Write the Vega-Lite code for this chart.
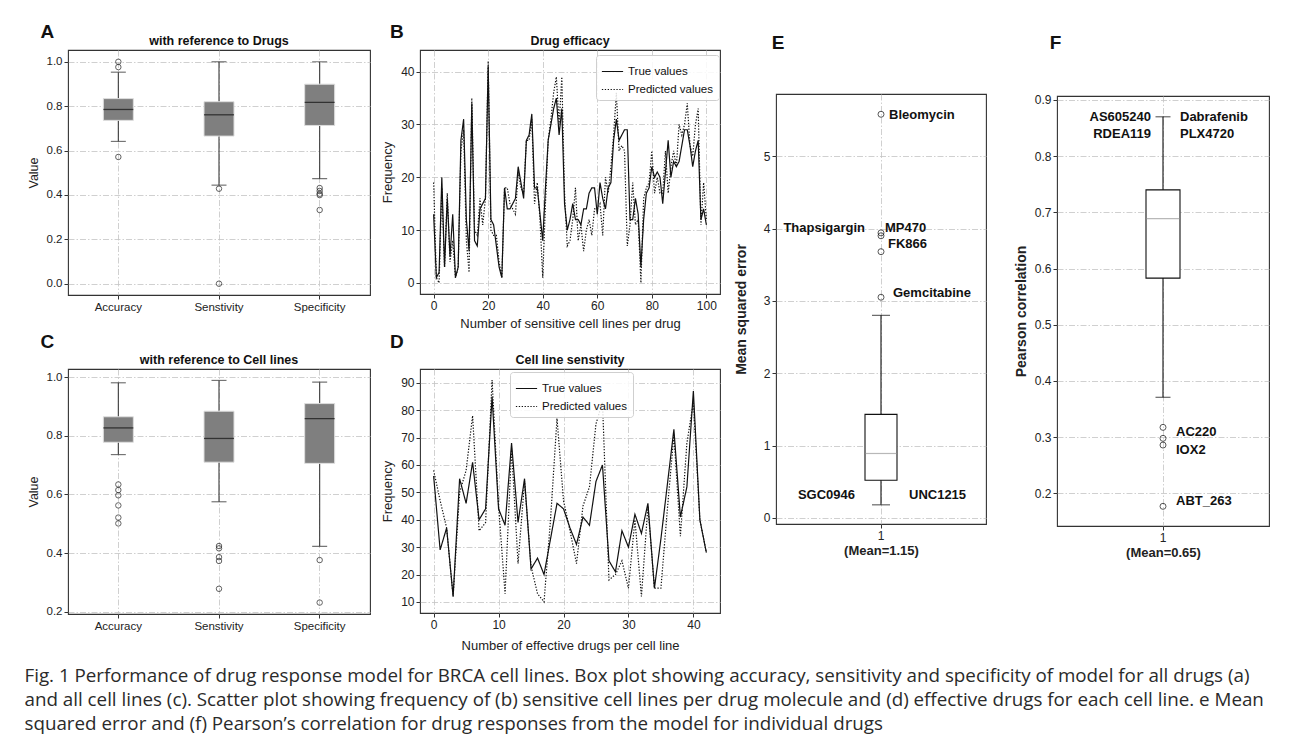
{
  "$schema": "https://vega.github.io/schema/vega-lite/v6.json",
  "padding": {"left": 24, "top": 22, "right": 2, "bottom": 2},
  "background": "white",
  "config": {
    "font": "Liberation Sans",
    "view": {"stroke": "#333", "strokeWidth": 1.1},
    "axis": {"domain": false, "grid": true, "gridColor": "#c4c4c4", "gridDash": [6, 2, 1.5, 2], "gridWidth": 0.8, "tickColor": "#333", "tickSize": 4, "labelColor": "#222", "titleColor": "#222", "titleFontWeight": "normal", "labelFontSize": 11.5, "titleFontSize": 12.5, "labelPadding": 2, "titlePadding": 6}
  },
  "title": {
    "text": [
      "Fig. 1 Performance of drug response model for BRCA cell lines. Box plot showing accuracy, sensitivity and specificity of model for all drugs (a)",
      "and all cell lines (c). Scatter plot showing frequency of (b) sensitive cell lines per drug molecule and (d) effective drugs for each cell line. e Mean",
      "squared error and (f) Pearson’s correlation for drug responses from the model for individual drugs"
    ],
    "orient": "bottom", "anchor": "start", "font": "Open Sans", "fontSize": 18.8, "fontWeight": "normal", "lineHeight": 24.2, "color": "#2a2a2a", "offset": 14, "dx": -2
  },
  "resolve": {"scale": {"x": "independent", "y": "independent", "strokeDash": "independent"}, "legend": {"strokeDash": "independent"}},
  "spacing": 12,
  "hconcat": [
    {
      "resolve": {"scale": {"x": "independent", "y": "independent", "strokeDash": "independent"}, "legend": {"strokeDash": "independent"}},
      "spacing": 1,
      "vconcat": [
        {
          "spacing": 10,
          "resolve": {"scale": {"x": "independent", "y": "independent", "strokeDash": "independent"}, "legend": {"strokeDash": "independent"}},
          "hconcat": [
            {
              "title": {"text": "A", "anchor": "start", "fontSize": 19, "fontWeight": "bold", "dx": 14, "offset": -8, "color": "#111"},
              "vconcat": [
                {
                  "width": 302, "height": 245,
                  "title": {"text": "with reference to Drugs", "fontSize": 12.5, "fontWeight": "bold", "offset": 3, "color": "#111"},
                  "data": {"values": [
                    {"cat": "Accuracy", "lo": 0.641, "q1": 0.736, "med": 0.785, "q3": 0.834, "hi": 0.953},
                    {"cat": "Senstivity", "lo": 0.444, "q1": 0.665, "med": 0.761, "q3": 0.82, "hi": 1.0},
                    {"cat": "Specificity", "lo": 0.473, "q1": 0.713, "med": 0.817, "q3": 0.899, "hi": 1.0}
                  ]},
                  "encoding": {"x": {"field": "cat", "type": "nominal", "sort": ["Accuracy", "Senstivity", "Specificity"], "scale": {"paddingInner": 0, "paddingOuter": 0}, "axis": {"title": null, "labelAngle": 0, "bandPosition": 0.5}}},
                  "layer": [
                    {"mark": {"type": "rule", "color": "#3a3a3a", "strokeWidth": 1.1}, "encoding": {"y": {"field": "lo", "type": "quantitative", "scale": {"domain": [-0.051, 1.053], "nice": false, "zero": false}, "axis": {"title": "Value", "values": [0, 0.2, 0.4, 0.6, 0.8, 1.0], "format": ".1f"}}, "y2": {"field": "hi"}}},
                    {"mark": {"type": "bar", "size": 30, "fill": "#7f7f7f", "stroke": "#dedede", "strokeWidth": 1}, "encoding": {"y": {"field": "q1", "type": "quantitative", "title": "Value"}, "y2": {"field": "q3"}}},
                    {"mark": {"type": "tick", "size": 30, "thickness": 1.3, "color": "#111"}, "encoding": {"y": {"field": "med", "type": "quantitative", "title": "Value"}}},
                    {"mark": {"type": "tick", "size": 15, "thickness": 1.2, "color": "#3a3a3a"}, "encoding": {"y": {"field": "lo", "type": "quantitative", "title": "Value"}}},
                    {"mark": {"type": "tick", "size": 15, "thickness": 1.2, "color": "#3a3a3a"}, "encoding": {"y": {"field": "hi", "type": "quantitative", "title": "Value"}}},
                    {
                      "data": {"values": [
                        {"cat": "Accuracy", "v": 1.0}, {"cat": "Accuracy", "v": 0.976}, {"cat": "Accuracy", "v": 0.571},
                        {"cat": "Senstivity", "v": 0.428}, {"cat": "Senstivity", "v": 0.0},
                        {"cat": "Specificity", "v": 0.431}, {"cat": "Specificity", "v": 0.418}, {"cat": "Specificity", "v": 0.405}, {"cat": "Specificity", "v": 0.399}, {"cat": "Specificity", "v": 0.332}
                      ]},
                      "mark": {"type": "point", "shape": "circle", "filled": false, "stroke": "#222", "strokeWidth": 1, "size": 30},
                      "encoding": {"y": {"field": "v", "type": "quantitative", "title": "Value"}}
                    }
                  ]
                }
              ]
            },
            {
              "title": {"text": "B", "anchor": "start", "fontSize": 19, "fontWeight": "bold", "dx": 9, "offset": -8, "color": "#111"},
              "vconcat": [
                {
                  "width": 300, "height": 244,
                  "title": {"text": "Drug efficacy", "fontSize": 12.5, "fontWeight": "bold", "offset": 3, "color": "#111"},
                  "data": {"values": [
                    {"n":0,"True values":13,"Predicted values":19},{"n":1,"True values":1,"Predicted values":1},{"n":2,"True values":2,"Predicted values":0},{"n":3,"True values":20,"Predicted values":18},{"n":4,"True values":3,"Predicted values":3},
                    {"n":5,"True values":16,"Predicted values":17},{"n":6,"True values":5,"Predicted values":4},{"n":7,"True values":13,"Predicted values":8},{"n":8,"True values":1,"Predicted values":1},{"n":9,"True values":3,"Predicted values":3},
                    {"n":10,"True values":27,"Predicted values":25},{"n":11,"True values":31,"Predicted values":29},{"n":12,"True values":12,"Predicted values":8},{"n":13,"True values":6,"Predicted values":2},{"n":14,"True values":34,"Predicted values":35},
                    {"n":15,"True values":8,"Predicted values":10},{"n":16,"True values":7,"Predicted values":9},{"n":17,"True values":14,"Predicted values":16},{"n":18,"True values":15,"Predicted values":11},{"n":19,"True values":16,"Predicted values":16},
                    {"n":20,"True values":41,"Predicted values":42},{"n":21,"True values":12,"Predicted values":10},{"n":22,"True values":11,"Predicted values":9},{"n":23,"True values":7,"Predicted values":9},{"n":24,"True values":3,"Predicted values":4},
                    {"n":25,"True values":1,"Predicted values":1},{"n":26,"True values":18,"Predicted values":18},{"n":27,"True values":14,"Predicted values":18},{"n":28,"True values":14,"Predicted values":15},{"n":29,"True values":15,"Predicted values":14},
                    {"n":30,"True values":16,"Predicted values":13},{"n":31,"True values":22,"Predicted values":21},{"n":32,"True values":19,"Predicted values":18},{"n":33,"True values":16,"Predicted values":17},{"n":34,"True values":27,"Predicted values":27},
                    {"n":35,"True values":28,"Predicted values":27},{"n":36,"True values":32,"Predicted values":31},{"n":37,"True values":18,"Predicted values":15},{"n":38,"True values":18,"Predicted values":19},{"n":39,"True values":13,"Predicted values":12},
                    {"n":40,"True values":8,"Predicted values":1},{"n":41,"True values":18,"Predicted values":15},{"n":42,"True values":27,"Predicted values":27},{"n":43,"True values":30,"Predicted values":31},{"n":44,"True values":33,"Predicted values":36},
                    {"n":45,"True values":35,"Predicted values":39},{"n":46,"True values":28,"Predicted values":30},{"n":47,"True values":33,"Predicted values":39},{"n":48,"True values":15,"Predicted values":17},{"n":49,"True values":10,"Predicted values":7},
                    {"n":50,"True values":12,"Predicted values":8},{"n":51,"True values":15,"Predicted values":12},{"n":52,"True values":12,"Predicted values":18},{"n":53,"True values":12,"Predicted values":8},{"n":54,"True values":11,"Predicted values":11},
                    {"n":55,"True values":14,"Predicted values":6},{"n":56,"True values":14,"Predicted values":10},{"n":57,"True values":17,"Predicted values":12},{"n":58,"True values":18,"Predicted values":9},{"n":59,"True values":18,"Predicted values":14},
                    {"n":60,"True values":13,"Predicted values":14},{"n":61,"True values":19,"Predicted values":15},{"n":62,"True values":16,"Predicted values":9},{"n":63,"True values":14,"Predicted values":20},{"n":64,"True values":18,"Predicted values":17},
                    {"n":65,"True values":19,"Predicted values":22},{"n":66,"True values":27,"Predicted values":28},{"n":67,"True values":31,"Predicted values":36},{"n":68,"True values":27,"Predicted values":25},{"n":69,"True values":28,"Predicted values":26},
                    {"n":70,"True values":29,"Predicted values":25},{"n":71,"True values":29,"Predicted values":7},{"n":72,"True values":12,"Predicted values":11},{"n":73,"True values":12,"Predicted values":19},{"n":74,"True values":16,"Predicted values":11},
                    {"n":75,"True values":13,"Predicted values":12},{"n":76,"True values":3,"Predicted values":0},{"n":77,"True values":12,"Predicted values":16},{"n":78,"True values":17,"Predicted values":18},{"n":79,"True values":18,"Predicted values":19},
                    {"n":80,"True values":22,"Predicted values":25},{"n":81,"True values":20,"Predicted values":17},{"n":82,"True values":21,"Predicted values":20},{"n":83,"True values":20,"Predicted values":17},{"n":84,"True values":15,"Predicted values":17},
                    {"n":85,"True values":21,"Predicted values":25},{"n":86,"True values":27,"Predicted values":17},{"n":87,"True values":20,"Predicted values":22},{"n":88,"True values":23,"Predicted values":25},{"n":89,"True values":22,"Predicted values":22},
                    {"n":90,"True values":23,"Predicted values":30},{"n":91,"True values":26,"Predicted values":28},{"n":92,"True values":29,"Predicted values":30},{"n":93,"True values":29,"Predicted values":34},{"n":94,"True values":26,"Predicted values":26},
                    {"n":95,"True values":22,"Predicted values":24},{"n":96,"True values":25,"Predicted values":30},{"n":97,"True values":27,"Predicted values":33},{"n":98,"True values":12,"Predicted values":11},{"n":99,"True values":14,"Predicted values":19},
                    {"n":100,"True values":11,"Predicted values":12}
                  ]},
                  "transform": [{"fold": ["True values", "Predicted values"], "as": ["series", "freq"]}],
                  "mark": {"type": "line", "color": "#111", "strokeWidth": 1.2},
                  "encoding": {
                    "x": {"field": "n", "type": "quantitative", "scale": {"domain": [-5, 105], "nice": false, "zero": false}, "axis": {"values": [0, 20, 40, 60, 80, 100], "title": "Number of sensitive cell lines per drug", "labelFontSize": 12, "titleFontSize": 13}},
                    "y": {"field": "freq", "type": "quantitative", "scale": {"domain": [-2.1, 44.1], "nice": false, "zero": false}, "axis": {"values": [0, 10, 20, 30, 40], "title": "Frequency", "labelFontSize": 12, "titleFontSize": 13}},
                    "strokeDash": {"field": "series", "type": "nominal", "scale": {"domain": ["True values", "Predicted values"], "range": [[1, 0], [1.3, 1.6]]},
                      "legend": {"title": null, "orient": "none", "legendX": 176, "legendY": 5, "fillColor": "rgba(255,255,255,0.85)", "strokeColor": "#cfcfcf", "cornerRadius": 3, "padding": 5, "rowPadding": 1, "labelFontSize": 11.5, "labelColor": "#111", "symbolType": "stroke", "symbolSize": 450, "symbolStrokeColor": "#111", "symbolStrokeWidth": 1.2}}
                  }
                }
              ]
            }
          ]
        },
        {
          "spacing": 10,
          "resolve": {"scale": {"x": "independent", "y": "independent", "strokeDash": "independent"}, "legend": {"strokeDash": "independent"}},
          "hconcat": [
            {
              "title": {"text": "C", "anchor": "start", "fontSize": 19, "fontWeight": "bold", "dx": 14, "offset": 1, "color": "#111"},
              "vconcat": [
                {
                  "width": 302, "height": 245,
                  "title": {"text": "with reference to Cell lines", "fontSize": 12.5, "fontWeight": "bold", "offset": 3, "color": "#111"},
                  "data": {"values": [
                    {"cat": "Accuracy", "lo": 0.736, "q1": 0.778, "med": 0.827, "q3": 0.865, "hi": 0.981},
                    {"cat": "Senstivity", "lo": 0.575, "q1": 0.71, "med": 0.791, "q3": 0.884, "hi": 0.989},
                    {"cat": "Specificity", "lo": 0.423, "q1": 0.706, "med": 0.859, "q3": 0.91, "hi": 0.983}
                  ]},
                  "encoding": {"x": {"field": "cat", "type": "nominal", "sort": ["Accuracy", "Senstivity", "Specificity"], "scale": {"paddingInner": 0, "paddingOuter": 0}, "axis": {"title": null, "labelAngle": 0, "bandPosition": 0.5}}},
                  "layer": [
                    {"mark": {"type": "rule", "color": "#3a3a3a", "strokeWidth": 1.1}, "encoding": {"y": {"field": "lo", "type": "quantitative", "scale": {"domain": [0.192, 1.028], "nice": false, "zero": false}, "axis": {"title": "Value", "values": [0.2, 0.3, 0.4, 0.5, 0.6, 0.7, 0.8, 0.9, 1.0], "format": ".1f"}}, "y2": {"field": "hi"}}},
                    {"mark": {"type": "bar", "size": 30, "fill": "#7f7f7f", "stroke": "#dedede", "strokeWidth": 1}, "encoding": {"y": {"field": "q1", "type": "quantitative", "title": "Value"}, "y2": {"field": "q3"}}},
                    {"mark": {"type": "tick", "size": 30, "thickness": 1.3, "color": "#111"}, "encoding": {"y": {"field": "med", "type": "quantitative", "title": "Value"}}},
                    {"mark": {"type": "tick", "size": 15, "thickness": 1.2, "color": "#3a3a3a"}, "encoding": {"y": {"field": "lo", "type": "quantitative", "title": "Value"}}},
                    {"mark": {"type": "tick", "size": 15, "thickness": 1.2, "color": "#3a3a3a"}, "encoding": {"y": {"field": "hi", "type": "quantitative", "title": "Value"}}},
                    {
                      "data": {"values": [
                        {"cat": "Accuracy", "v": 0.634}, {"cat": "Accuracy", "v": 0.615}, {"cat": "Accuracy", "v": 0.597}, {"cat": "Accuracy", "v": 0.5625}, {"cat": "Accuracy", "v": 0.521}, {"cat": "Accuracy", "v": 0.501},
                        {"cat": "Senstivity", "v": 0.424}, {"cat": "Senstivity", "v": 0.416}, {"cat": "Senstivity", "v": 0.386}, {"cat": "Senstivity", "v": 0.373}, {"cat": "Senstivity", "v": 0.278},
                        {"cat": "Specificity", "v": 0.376}, {"cat": "Specificity", "v": 0.231}
                      ]},
                      "mark": {"type": "point", "shape": "circle", "filled": false, "stroke": "#222", "strokeWidth": 1, "size": 30},
                      "encoding": {"y": {"field": "v", "type": "quantitative", "title": "Value"}}
                    }
                  ]
                }
              ]
            },
            {
              "title": {"text": "D", "anchor": "start", "fontSize": 19, "fontWeight": "bold", "dx": 9, "offset": 1, "color": "#111"},
              "vconcat": [
                {
                  "width": 300, "height": 244,
                  "title": {"text": "Cell line senstivity", "fontSize": 12.5, "fontWeight": "bold", "offset": 3, "color": "#111"},
                  "data": {"values": [
                    {"n":0,"True values":56,"Predicted values":58},{"n":1,"True values":29,"Predicted values":47},{"n":2,"True values":37,"Predicted values":37},{"n":3,"True values":12,"Predicted values":12},{"n":4,"True values":55,"Predicted values":50},
                    {"n":5,"True values":46,"Predicted values":58},{"n":6,"True values":61,"Predicted values":78},{"n":7,"True values":40,"Predicted values":36},{"n":8,"True values":44,"Predicted values":39},{"n":9,"True values":85,"Predicted values":91},
                    {"n":10,"True values":44,"Predicted values":45},{"n":11,"True values":38,"Predicted values":13},{"n":12,"True values":68,"Predicted values":66},{"n":13,"True values":39,"Predicted values":24},{"n":14,"True values":55,"Predicted values":54},
                    {"n":15,"True values":22,"Predicted values":23},{"n":16,"True values":26,"Predicted values":13},{"n":17,"True values":20,"Predicted values":10},{"n":18,"True values":33,"Predicted values":40},{"n":19,"True values":46,"Predicted values":77},
                    {"n":20,"True values":44,"Predicted values":47},{"n":21,"True values":37,"Predicted values":36},{"n":22,"True values":31,"Predicted values":24},{"n":23,"True values":41,"Predicted values":45},{"n":24,"True values":38,"Predicted values":52},
                    {"n":25,"True values":54,"Predicted values":75},{"n":26,"True values":60,"Predicted values":83},{"n":27,"True values":25,"Predicted values":18},{"n":28,"True values":21,"Predicted values":20},{"n":29,"True values":36,"Predicted values":25},
                    {"n":30,"True values":30,"Predicted values":15},{"n":31,"True values":42,"Predicted values":40},{"n":32,"True values":35,"Predicted values":12},{"n":33,"True values":46,"Predicted values":45},{"n":34,"True values":15,"Predicted values":15},
                    {"n":35,"True values":33,"Predicted values":15},{"n":36,"True values":53,"Predicted values":44},{"n":37,"True values":73,"Predicted values":71},{"n":38,"True values":41,"Predicted values":34},{"n":39,"True values":52,"Predicted values":68},
                    {"n":40,"True values":87,"Predicted values":83},{"n":41,"True values":40,"Predicted values":40},{"n":42,"True values":28,"Predicted values":28}
                  ]},
                  "transform": [{"fold": ["True values", "Predicted values"], "as": ["series", "freq"]}],
                  "mark": {"type": "line", "color": "#111", "strokeWidth": 1.2},
                  "encoding": {
                    "x": {"field": "n", "type": "quantitative", "scale": {"domain": [-2.1, 44.1], "nice": false, "zero": false}, "axis": {"values": [0, 10, 20, 30, 40], "title": "Number of effective drugs per cell line", "labelFontSize": 12, "titleFontSize": 13, "titlePadding": 9}},
                    "y": {"field": "freq", "type": "quantitative", "scale": {"domain": [5.95, 95.05], "nice": false, "zero": false}, "axis": {"values": [10, 20, 30, 40, 50, 60, 70, 80, 90], "title": "Frequency", "labelFontSize": 12, "titleFontSize": 13}},
                    "strokeDash": {"field": "series", "type": "nominal", "scale": {"domain": ["True values", "Predicted values"], "range": [[1, 0], [1.3, 1.6]]},
                      "legend": {"title": null, "orient": "none", "legendX": 90, "legendY": 3, "fillColor": "rgba(255,255,255,0.85)", "strokeColor": "#cfcfcf", "cornerRadius": 3, "padding": 5, "rowPadding": 1, "labelFontSize": 11.5, "labelColor": "#111", "symbolType": "stroke", "symbolSize": 450, "symbolStrokeColor": "#111", "symbolStrokeWidth": 1.2}}
                  }
                }
              ]
            }
          ]
        }
      ]
    },
    {
      "spacing": 26,
      "resolve": {"scale": {"x": "independent", "y": "independent"}},
      "hconcat": [
        {
          "title": {"text": "E", "anchor": "start", "fontSize": 19, "fontWeight": "bold", "dx": 38, "offset": -3, "color": "#111"},
          "spacing": 0,
          "vconcat": [
            {"width": 210, "height": 43, "view": {"stroke": null}, "data": {"values": []}, "mark": "text", "encoding": {}},
            {
              "width": 210, "height": 430,
              "data": {"values": [{"grp": "1", "lo": 0.18, "q1": 0.52, "med": 0.89, "q3": 1.43, "hi": 2.8}]},
              "encoding": {"x": {"field": "grp", "type": "nominal", "scale": {"paddingInner": 0, "paddingOuter": 0}, "axis": {"title": "(Mean=1.15)", "titleFontWeight": "bold", "titleFontSize": 13, "titlePadding": 3, "labelAngle": 0, "bandPosition": 0.5, "labelFontSize": 12}}},
              "layer": [
                {"mark": {"type": "rule", "color": "#111", "strokeWidth": 1.1}, "encoding": {"y": {"field": "lo", "type": "quantitative", "scale": {"domain": [-0.085, 5.86], "nice": false, "zero": false}, "axis": {"title": "Mean squared error", "values": [0, 1, 2, 3, 4, 5], "format": "d", "titleFontWeight": "bold", "titleFontSize": 14, "labelFontSize": 12, "titlePadding": 15}}, "y2": {"field": "hi"}}},
                {"mark": {"type": "bar", "size": 32, "fill": "white", "stroke": "#111", "strokeWidth": 1.1}, "encoding": {"y": {"field": "q1", "type": "quantitative", "title": "Mean squared error"}, "y2": {"field": "q3"}}},
                {"mark": {"type": "tick", "size": 31, "thickness": 1.2, "color": "#9a9a9a"}, "encoding": {"y": {"field": "med", "type": "quantitative", "title": "Mean squared error"}}},
                {"mark": {"type": "tick", "size": 18, "thickness": 1.1, "color": "#111"}, "encoding": {"y": {"field": "lo", "type": "quantitative", "title": "Mean squared error"}}},
                {"mark": {"type": "tick", "size": 18, "thickness": 1.1, "color": "#111"}, "encoding": {"y": {"field": "hi", "type": "quantitative", "title": "Mean squared error"}}},
                {
                  "data": {"values": [{"grp": "1", "v": 5.58}, {"grp": "1", "v": 3.94}, {"grp": "1", "v": 3.9}, {"grp": "1", "v": 3.68}, {"grp": "1", "v": 3.05}]},
                  "mark": {"type": "point", "shape": "circle", "filled": false, "stroke": "#111", "strokeWidth": 1, "size": 36},
                  "encoding": {"y": {"field": "v", "type": "quantitative", "title": "Mean squared error"}}
                },
                {
                  "data": {"values": [{"grp": "1", "v": 5.57, "label": "Bleomycin"}]},
                  "mark": {"type": "text", "align": "left", "baseline": "middle", "dx": 8, "fontWeight": "bold", "fontSize": 13, "color": "#111"},
                  "encoding": {"y": {"field": "v", "type": "quantitative", "title": "Mean squared error"}, "text": {"field": "label"}}
                },
                {
                  "data": {"values": [{"grp": "1", "v": 3.79, "label": "FK866"}]},
                  "mark": {"type": "text", "align": "left", "baseline": "middle", "dx": 7, "fontWeight": "bold", "fontSize": 13, "color": "#111"},
                  "encoding": {"y": {"field": "v", "type": "quantitative", "title": "Mean squared error"}, "text": {"field": "label"}}
                },
                {
                  "data": {"values": [{"grp": "1", "v": 4.01, "label": "MP470"}]},
                  "mark": {"type": "text", "align": "left", "baseline": "middle", "dx": 4, "fontWeight": "bold", "fontSize": 13, "color": "#111"},
                  "encoding": {"y": {"field": "v", "type": "quantitative", "title": "Mean squared error"}, "text": {"field": "label"}}
                },
                {
                  "data": {"values": [{"grp": "1", "v": 3.11, "label": "Gemcitabine"}]},
                  "mark": {"type": "text", "align": "left", "baseline": "middle", "dx": 12, "fontWeight": "bold", "fontSize": 13, "color": "#111"},
                  "encoding": {"y": {"field": "v", "type": "quantitative", "title": "Mean squared error"}, "text": {"field": "label"}}
                },
                {
                  "data": {"values": [{"grp": "1", "v": 4.01, "label": "Thapsigargin"}]},
                  "mark": {"type": "text", "align": "right", "baseline": "middle", "dx": -16, "fontWeight": "bold", "fontSize": 13, "color": "#111"},
                  "encoding": {"y": {"field": "v", "type": "quantitative", "title": "Mean squared error"}, "text": {"field": "label"}}
                },
                {
                  "data": {"values": [{"grp": "1", "v": 0.32, "label": "SGC0946"}]},
                  "mark": {"type": "text", "align": "right", "baseline": "middle", "dx": -26, "fontWeight": "bold", "fontSize": 13, "color": "#111"},
                  "encoding": {"y": {"field": "v", "type": "quantitative", "title": "Mean squared error"}, "text": {"field": "label"}}
                },
                {
                  "data": {"values": [{"grp": "1", "v": 0.32, "label": "UNC1215"}]},
                  "mark": {"type": "text", "align": "left", "baseline": "middle", "dx": 28, "fontWeight": "bold", "fontSize": 13, "color": "#111"},
                  "encoding": {"y": {"field": "v", "type": "quantitative", "title": "Mean squared error"}, "text": {"field": "label"}}
                }
              ]
            }
          ]
        },
        {
          "title": {"text": "F", "anchor": "start", "fontSize": 19, "fontWeight": "bold", "dx": 36, "offset": -3, "color": "#111"},
          "spacing": 0,
          "vconcat": [
            {"width": 212, "height": 43, "view": {"stroke": null}, "data": {"values": []}, "mark": "text", "encoding": {}},
            {
              "width": 212, "height": 430,
              "data": {"values": [{"grp": "1", "lo": 0.371, "q1": 0.583, "med": 0.689, "q3": 0.74, "hi": 0.87}]},
              "encoding": {"x": {"field": "grp", "type": "nominal", "scale": {"paddingInner": 0, "paddingOuter": 0}, "axis": {"title": "(Mean=0.65)", "titleFontWeight": "bold", "titleFontSize": 13, "titlePadding": 3, "labelAngle": 0, "bandPosition": 0.5, "labelFontSize": 12}}},
              "layer": [
                {"mark": {"type": "rule", "color": "#111", "strokeWidth": 1.1}, "encoding": {"y": {"field": "lo", "type": "quantitative", "scale": {"domain": [0.142, 0.907], "nice": false, "zero": false}, "axis": {"title": "Pearson correlation", "values": [0.2, 0.3, 0.4, 0.5, 0.6, 0.7, 0.8, 0.9], "format": ".1f", "titleFontWeight": "bold", "titleFontSize": 14, "labelFontSize": 12}}, "y2": {"field": "hi"}}},
                {"mark": {"type": "bar", "size": 34, "fill": "white", "stroke": "#111", "strokeWidth": 1.1}, "encoding": {"y": {"field": "q1", "type": "quantitative", "title": "Pearson correlation"}, "y2": {"field": "q3"}}},
                {"mark": {"type": "tick", "size": 33, "thickness": 1.2, "color": "#9a9a9a"}, "encoding": {"y": {"field": "med", "type": "quantitative", "title": "Pearson correlation"}}},
                {"mark": {"type": "tick", "size": 15, "thickness": 1.1, "color": "#111"}, "encoding": {"y": {"field": "lo", "type": "quantitative", "title": "Pearson correlation"}}},
                {"mark": {"type": "tick", "size": 15, "thickness": 1.1, "color": "#111"}, "encoding": {"y": {"field": "hi", "type": "quantitative", "title": "Pearson correlation"}}},
                {
                  "data": {"values": [{"grp": "1", "v": 0.3175}, {"grp": "1", "v": 0.298}, {"grp": "1", "v": 0.286}, {"grp": "1", "v": 0.177}]},
                  "mark": {"type": "point", "shape": "circle", "filled": false, "stroke": "#111", "strokeWidth": 1, "size": 36},
                  "encoding": {"y": {"field": "v", "type": "quantitative", "title": "Pearson correlation"}}
                },
                {
                  "data": {"values": [{"grp": "1", "v": 0.87, "label": "AS605240"}, {"grp": "1", "v": 0.84, "label": "RDEA119"}]},
                  "mark": {"type": "text", "align": "right", "baseline": "middle", "dx": -12, "fontWeight": "bold", "fontSize": 13, "color": "#111"},
                  "encoding": {"y": {"field": "v", "type": "quantitative", "title": "Pearson correlation"}, "text": {"field": "label"}}
                },
                {
                  "data": {"values": [{"grp": "1", "v": 0.87, "label": "Dabrafenib"}, {"grp": "1", "v": 0.84, "label": "PLX4720"}]},
                  "mark": {"type": "text", "align": "left", "baseline": "middle", "dx": 17, "fontWeight": "bold", "fontSize": 13, "color": "#111"},
                  "encoding": {"y": {"field": "v", "type": "quantitative", "title": "Pearson correlation"}, "text": {"field": "label"}}
                },
                {
                  "data": {"values": [{"grp": "1", "v": 0.309, "label": "AC220"}, {"grp": "1", "v": 0.278, "label": "IOX2"}, {"grp": "1", "v": 0.186, "label": "ABT_263"}]},
                  "mark": {"type": "text", "align": "left", "baseline": "middle", "dx": 13, "fontWeight": "bold", "fontSize": 13, "color": "#111"},
                  "encoding": {"y": {"field": "v", "type": "quantitative", "title": "Pearson correlation"}, "text": {"field": "label"}}
                }
              ]
            }
          ]
        }
      ]
    }
  ]
}
